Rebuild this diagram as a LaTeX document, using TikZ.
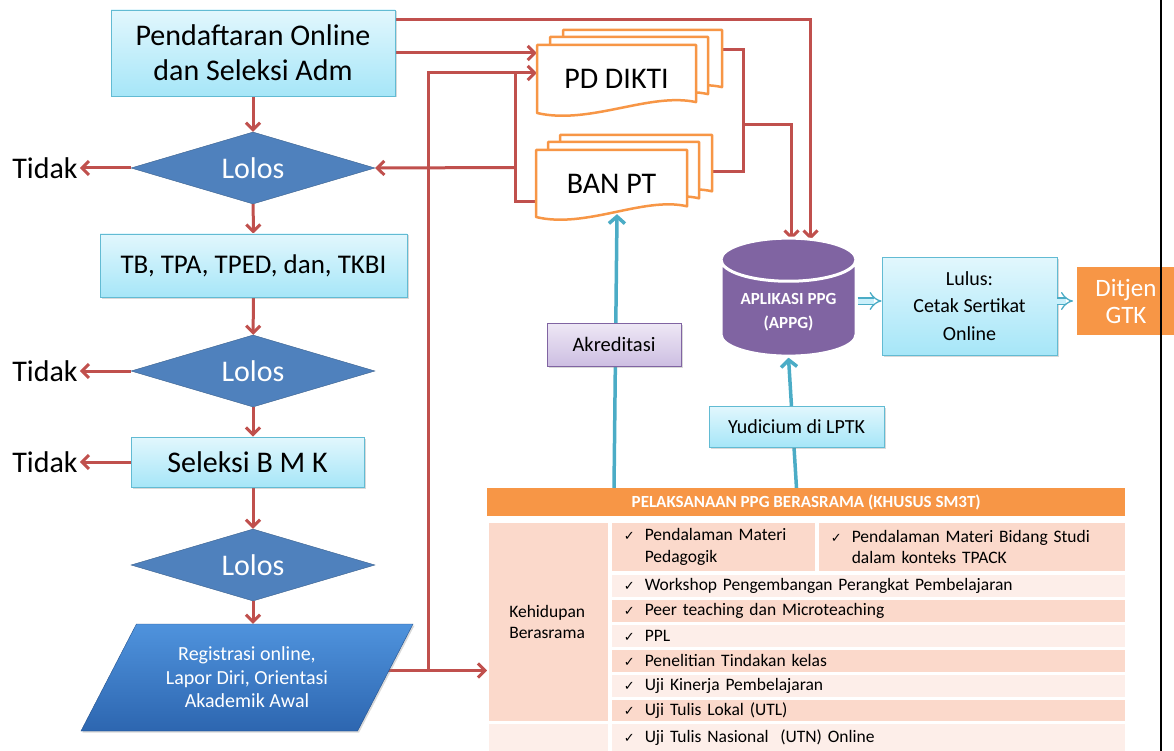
\documentclass[tikz,border=0pt]{standalone}
\usepackage{fontspec}
\setmainfont{Carlito}
\newfontfamily\symf{DejaVu Sans}
\usetikzlibrary{shapes.geometric,arrows.meta,calc,backgrounds,shadows}

\definecolor{flowred}{HTML}{C0504D}
\definecolor{flowteal}{HTML}{4BACC6}
\definecolor{boxblue}{HTML}{4F81BD}
\definecolor{docorange}{HTML}{F79646}
\definecolor{dbpurple}{HTML}{8064A2}
\definecolor{cyantop}{HTML}{E2F7FD}
\definecolor{cyanbot}{HTML}{A6E6F8}
\definecolor{cyanedge}{HTML}{62BBD3}
\definecolor{lilactop}{HTML}{EEE8F5}
\definecolor{lilacbot}{HTML}{CDBEE2}
\definecolor{regtop}{HTML}{4F93DD}
\definecolor{regbot}{HTML}{2D66B0}
\definecolor{celldark}{HTML}{FBD9CB}
\definecolor{celllight}{HTML}{FDEEE9}

\newcommand\chk{\makebox[21pt][l]{\symf\fontsize{13}{15}\selectfont ✓}}
\newcommand\docpage[4]{\draw[docline] (#1,#2) -- ++(#3,0) -- ++(0,0.84*#4)
  .. controls +(-0.29*#3,-0.15*#4) and +(0.33*#3,0.18*#4) .. (#1,#2+#4) -- cycle;}

\tikzset{
  boxshadow/.style={drop shadow={shadow xshift=1.5pt,shadow yshift=-1.5pt,opacity=0.3}},
  cyanbox/.style={rectangle, draw=cyanedge, line width=0.8pt, top color=cyantop,
    bottom color=cyanbot, align=center, boxshadow},
  lilacbox/.style={rectangle, draw=dbpurple, line width=0.8pt, top color=lilactop,
    bottom color=lilacbot, align=center, boxshadow},
  lolos/.style={diamond, aspect=3.3, draw=boxblue!75!black, fill=boxblue, text=white,
    minimum width=244pt, minimum height=72pt, inner sep=0pt, font=\fontsize{30}{34}\selectfont},
  tidak/.style={inner sep=2pt, font=\fontsize{30}{34}\selectfont},
  regbox/.style={trapezium, trapezium left angle=58, trapezium right angle=122,
    trapezium stretches, minimum width=333pt, minimum height=107pt,
    draw=regbot!80!black, top color=regtop, bottom color=regbot, text=white,
    align=center, font=\fontsize{20}{23.5}\selectfont, boxshadow},
  docline/.style={draw=docorange, line width=2.5pt, fill=white, line join=round},
  doclabel/.style={inner sep=0pt, font=\fontsize{30}{34}\selectfont},
  hdrcell/.style={anchor=north west, fill=docorange, text=white, inner sep=0pt,
    font=\bfseries\fontsize{17}{19}\selectfont},
  rowcell/.style={anchor=north west, draw=white, line width=1.5pt, minimum width=515pt,
    text width=489pt, inner xsep=13pt, inner ysep=0pt, align=left,
    font=\fontsize{17.5}{21.5}\selectfont},
  redline/.style={draw=flowred, line width=3pt},
  redarr/.style={redline, -{Straight Barb[length=7pt,width=14pt]}},
  tealarr/.style={draw=flowteal, line width=3.5pt, -{Straight Barb[length=7pt,width=16pt]}},
  hollowarr/.style={draw=flowteal, double=cyanbot!60!white, double distance=5pt, line width=1.3pt, -{Implies}}
}

\begin{document}
\begin{tikzpicture}[x=1pt,y=-1pt]
\useasboundingbox (0,0) rectangle (1174,751);

\docpage{563}{30}{159}{68}
\docpage{550}{37}{158}{68}
\docpage{537}{45}{159}{68}
\docpage{560}{135}{152}{67}
\docpage{548}{142}{151}{67}
\docpage{536}{150}{151}{67}

\node[doclabel, minimum width=159pt, minimum height=68pt](pddikti) at (616.5,79){PD DIKTI};
\node[doclabel, minimum width=151pt, minimum height=67pt](banpt) at (611.5,183.5){BAN PT};

\node[cyanbox, minimum width=284pt, minimum height=86pt, font=\fontsize{30}{35}\selectfont](pend) at (253,53){Pendaftaran Online\\dan Seleksi Adm};
\node[lolos](lolosA) at (253,168){Lolos};
\node[cyanbox, minimum width=307pt, minimum height=63pt, font=\fontsize{27}{30}\selectfont](tes) at (253.5,265.5){TB, TPA, TPED, dan, TKBI};
\node[lolos](lolosB) at (253,371){Lolos};
\node[cyanbox, minimum width=233pt, minimum height=50pt, font=\fontsize{30}{34}\selectfont](bmk) at (247.5,462){Seleksi B M K};
\node[lolos](lolosC) at (253,565){Lolos};
\node[regbox](reg) at (247,677.5){Registrasi online,\\Lapor Diri, Orientasi\\Akademik Awal};
\node[tidak](tidakA) at (45,168){Tidak};
\node[tidak](tidakB) at (45,371){Tidak};
\node[tidak](tidakC) at (45,462){Tidak};

\node[cylinder, shape border rotate=90, aspect=0.42, draw=white, line width=3pt, fill=dbpurple,
  minimum width=135pt, minimum height=118pt, text=white, align=center,
  font=\bfseries\fontsize{17}{24}\selectfont](appg) at (788.5,312){\raisebox{7pt}{\begin{tabular}{@{}c@{}}APLIKASI PPG\\(APPG)\end{tabular}}};
\node[cyanbox, minimum width=175pt, minimum height=98pt, font=\fontsize{20}{27.5}\selectfont](lulus) at (969.5,306){Lulus:\\Cetak Sertikat\\Online};
\node[rectangle, fill=docorange, draw=white, line width=4pt, boxshadow, text=white, align=center,
  minimum width=102pt, minimum height=72pt, font=\fontsize{25}{27}\selectfont](gtk) at (1126,301){Ditjen\\GTK};
\node[lilacbox, minimum width=134pt, minimum height=43pt, font=\fontsize{20.5}{23}\selectfont](akred) at (614,344.5){Akreditasi};
\node[cyanbox, minimum width=175pt, minimum height=41pt, font=\fontsize{20}{23}\selectfont](yudi) at (796.5,426.5){Yudicium di LPTK};

\node[hdrcell, minimum width=638pt, minimum height=28pt](hdr) at (487,488){PELAKSANAAN PPG BERASRAMA (KHUSUS SM3T)};
\node[rowcell, fill=celldark, minimum width=121pt, text width=92pt, inner xsep=14.5pt, minimum height=200pt](asrama) at (487,521){\hspace*{7pt}Kehidupan\\\hspace*{7pt}Berasrama};
\node[rowcell, fill=celllight, minimum width=121pt, text width=92pt, inner xsep=14.5pt, minimum height=29pt](kosong) at (487,722){};
\node[rowcell, fill=celldark, minimum width=205pt, text width=179pt, minimum height=50pt](pedagogik) at (610,521){\chk\parbox[t]{158pt}{Pendalaman Materi\\Pedagogik}};
\node[rowcell, fill=celldark, minimum width=308pt, text width=282pt, minimum height=50pt](tpack) at (817,521){\chk\parbox[t]{261pt}{Pendalaman Materi Bidang Studi\\dalam konteks TPACK}};
\foreach \nm/\ya/\hh/\col/\txt in {
  wshop/573/24/celllight/Workshop Pengembangan Perangkat Pembelajaran,
  peer/598/24/celldark/Peer teaching dan Microteaching,
  ppl/623/24/celllight/PPL,
  ptk/648/24/celldark/Penelitian Tindakan kelas,
  ukin/673/24/celllight/Uji Kinerja Pembelajaran,
  utl/698/23/celldark/Uji Tulis Lokal (UTL),
  utn/722/29/celllight/Uji Tulis Nasional~ (UTN) Online}
  \node[rowcell, fill=\col, minimum height=\hh pt](\nm) at (610,\ya){\chk\txt};

\begin{scope}[on background layer]
\draw[redarr] (pend) -- (lolosA);
\draw[redarr] (lolosA) -- (tes);
\draw[redarr] (tes) -- (lolosB);
\draw[redarr] (lolosB) -- (lolosB |- bmk.north);
\draw[redarr] (lolosC |- bmk.south) -- (lolosC);
\draw[redarr] (lolosC) -- (lolosC |- reg.north);
\draw[redarr] (lolosA) -- (tidakA);
\draw[redarr] (lolosB) -- (tidakB);
\draw[redarr] (bmk) -- (tidakC);
\draw[redarr] ($(pend.north east)+(0,10)$) -| ($(appg.north)+(22,3)$);
\draw[redarr] (pend.east) -- (pend.east -| pddikti.west);
\coordinate (regout) at ([yshift=7pt]reg.east);
\draw[redarr] (regout) -- (regout -| asrama.west);
\draw[redarr] (regout -| 428,0) |- ($(pddikti.west)+(0,-6)$);
\draw[redline] ($(banpt.west)+(0,18)$) -| ($(pddikti.west)+(-21,-6)$);
\draw[redarr] ($(banpt.west)+(-20,-16)$) -- (lolosA.east);
\draw[redline] ($(pddikti.north east)+(14,5)$) -| ($(banpt.east)+(56,-12)$) -- ($(banpt.east)+(25,-12)$);
\draw[redarr] ($(pddikti.north east)+(47,80)$) -| ($(appg.north)+(3,3)$);
\draw[tealarr] (akred |- hdr.north) -- ($(akred |- banpt.south)+(3,-3)$);
\draw[tealarr] (yudi |- hdr.north) -- (appg.south);
\end{scope}
\draw[hollowarr] (appg.east |- gtk) -- (lulus.west |- gtk);
\draw[hollowarr] (lulus.east |- gtk) -- (gtk);

\draw[line width=2pt] (1161,0) -- (1161,751);
\end{tikzpicture}
\end{document}
